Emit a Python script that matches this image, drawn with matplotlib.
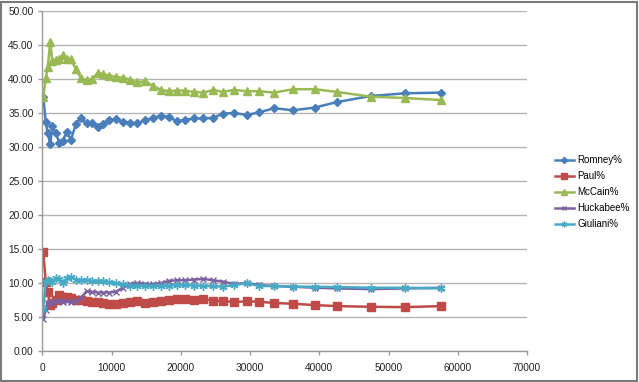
import matplotlib
matplotlib.use("Agg")
import matplotlib.pyplot as plt
from matplotlib.patches import Rectangle

plt.rcParams['font.family'] = ['Liberation Sans', 'DejaVu Sans']

# votes counted (shared x for every series)
votes = [116, 462, 751, 1127, 1416, 1951, 2428, 2919, 3497, 4118,
         4841, 5520, 6387, 7153, 7976, 8786, 9653, 10577, 11589, 12644,
         13612, 14811, 15924, 17123, 18279, 19392, 20591, 21892, 23236, 24681,
         26039, 27715, 29507, 31328, 33451, 36240, 39333, 42512, 47425, 52425,
         57583]

romney = [37.4, 33.7, 32.0, 30.4, 33.1, 32.0, 30.6, 30.9, 32.2, 31.1,
          33.4, 34.2, 33.5, 33.6, 33.0, 33.4, 33.9, 34.1, 33.7, 33.6,
          33.5, 33.9, 34.3, 34.6, 34.4, 33.8, 34.0, 34.2, 34.2, 34.3,
          34.9, 35.0, 34.7, 35.1, 35.7, 35.4, 35.8, 36.6, 37.5, 37.9,
          38.0]

paul = [14.6, 10.2, 8.7, 6.7, 7.0, 7.5, 8.2, 8.0, 7.9, 7.8,
        7.5, 7.5, 7.4, 7.2, 7.2, 7.1, 6.9, 6.9, 7.0, 7.2,
        7.3, 7.1, 7.2, 7.3, 7.5, 7.6, 7.6, 7.5, 7.6, 7.4,
        7.35, 7.2, 7.3, 7.25, 7.05, 6.95, 6.75, 6.6, 6.5, 6.45,
        6.6]

mccain = [37.4, 40.1, 41.7, 45.5, 42.6, 42.8, 43.0, 43.5, 42.9, 42.9,
          41.4, 40.2, 39.8, 40.0, 40.9, 40.7, 40.5, 40.3, 40.2, 39.9,
          39.5, 39.7, 39.0, 38.4, 38.2, 38.3, 38.3, 38.1, 38.0, 38.4,
          38.1, 38.4, 38.2, 38.2, 38.0, 38.5, 38.5, 38.1, 37.4, 37.2,
          36.9]

huckabee = [4.7, 6.0, 7.0, 7.2, 7.1, 7.3, 7.3, 7.2, 7.3, 7.2,
            7.3, 7.8, 8.8, 8.7, 8.6, 8.6, 8.6, 8.7, 9.3, 9.8,
            10.0, 9.9, 9.8, 10.0, 10.3, 10.4, 10.4, 10.5, 10.6, 10.4,
            10.2, 9.85, 10.0, 9.7, 9.55, 9.45, 9.3, 9.2, 9.1, 9.2,
            9.3]

giuliani = [6.2, 10.2, 10.5, 10.3, 10.1, 10.7, 10.6, 10.0, 10.7, 10.9,
            10.5, 10.4, 10.4, 10.3, 10.3, 10.3, 10.1, 10.0, 9.8, 9.6,
            9.6, 9.6, 9.5, 9.6, 9.6, 9.7, 9.7, 9.6, 9.55, 9.55,
            9.45, 9.7, 9.95, 9.55, 9.55, 9.45, 9.45, 9.4, 9.3, 9.3,
            9.2]

series = [
    ("Romney%", romney, "#4A7EBB", "D", 4.5),
    ("Paul%", paul, "#BE4B48", "s", 6),
    ("McCain%", mccain, "#98B954", "^", 6),
    ("Huckabee%", huckabee, "#7D60A0", "x", 4.5),
    ("Giuliani%", giuliani, "#46AAC5", (6, 2, 0), 6),
]

fig = plt.figure(figsize=(6.39, 3.82), dpi=100)
ax = fig.add_axes([0.0665, 0.0812, 0.7582, 0.8900])

for name, vals, color, marker, ms in series:
    ax.plot(votes, vals, color=color, lw=1.8, marker=marker, ms=ms,
            mec=color, mfc=color, mew=1.0, label=name)

ax.set_xlim(0, 70000)
ax.set_ylim(0, 50)
ax.set_xticks(range(0, 70001, 10000))
ax.set_yticks(range(0, 51, 5))
ax.set_yticklabels([f"{v:.2f}" for v in range(0, 51, 5)])
ax.yaxis.grid(True, color="#b4b4b4", lw=1.0)
ax.set_axisbelow(True)
for side in ["top", "right"]:
    ax.spines[side].set_visible(False)
for side in ["left", "bottom"]:
    ax.spines[side].set_color("#9a9a9a")
    ax.spines[side].set_linewidth(1.0)
ax.tick_params(axis="both", colors="#9a9a9a", labelcolor="#222222",
               labelsize=7.3, length=3, width=1.0)
ax.tick_params(axis="x", pad=6)

fig.legend(loc="center left", bbox_to_anchor=(0.868, 0.497), frameon=False,
           fontsize=7, handlelength=2.0, handletextpad=0.3, labelspacing=0.62,
           borderpad=0, borderaxespad=0, markerscale=0.7)

fig.patches.append(Rectangle((0.002, 0.003), 0.995, 0.993, transform=fig.transFigure,
                             fill=False, edgecolor="#7a7a7a", lw=1.5))

fig.savefig("out.png", dpi=100)
